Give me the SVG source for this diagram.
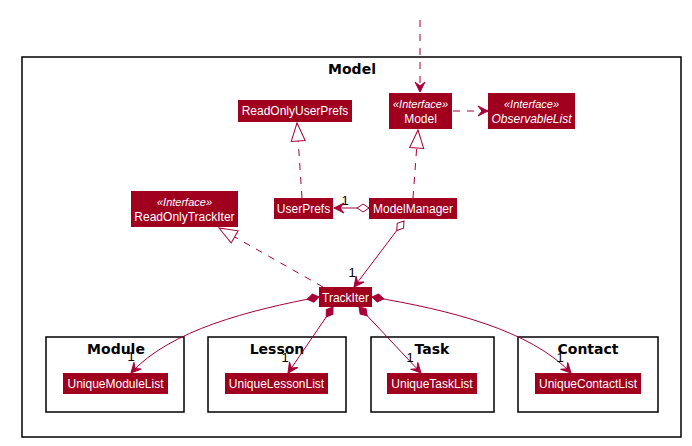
<svg xmlns="http://www.w3.org/2000/svg" width="692" height="446" viewBox="0 0 692 446">
<style>
.pkg{fill:none;stroke:#000;stroke-width:1.5}
.ptitle{font-family:"DejaVu Sans","Liberation Sans",sans-serif;font-size:14px;font-weight:bold;fill:#000;text-anchor:middle}
.box{fill:#A0001E;stroke:none}
.lbl{font-family:"Liberation Sans",Arial,sans-serif;font-size:12px;fill:#fff;text-anchor:middle}
.st{font-family:"Liberation Sans",Arial,sans-serif;font-size:11px;font-style:italic;fill:#fff;text-anchor:middle}
.e{fill:none;stroke:#A80036;stroke-width:1}
.d{stroke-dasharray:7,7}
.m{font-family:"Liberation Sans",Arial,sans-serif;font-size:13px;fill:#000;text-anchor:middle}
</style>
<defs>
<marker id="open" viewBox="0 0 12 12" refX="11" refY="6" markerWidth="12" markerHeight="12" orient="auto" markerUnits="userSpaceOnUse">
<path d="M1,1 L11,6 L1,11 L5,6 Z" fill="#A80036" stroke="#A80036"/>
</marker>
<marker id="tri" viewBox="0 0 20 16" refX="19" refY="8" markerWidth="20" markerHeight="16" orient="auto" markerUnits="userSpaceOnUse">
<path d="M1,1 L19,8 L1,15 Z" fill="#fff" stroke="#A80036"/>
</marker>
<marker id="odia" viewBox="0 0 14 10" refX="1" refY="5" markerWidth="14" markerHeight="10" orient="auto" markerUnits="userSpaceOnUse">
<path d="M1,5 L7,1 L13,5 L7,9 Z" fill="#fff" stroke="#A80036"/>
</marker>
<marker id="fdia" viewBox="0 0 14 10" refX="1" refY="5" markerWidth="14" markerHeight="10" orient="auto" markerUnits="userSpaceOnUse">
<path d="M1,5 L7,1 L13,5 L7,9 Z" fill="#A80036" stroke="#A80036"/>
</marker>
</defs>

<g id="pkg-model">
<rect class="pkg" x="22" y="57" width="659" height="380"/>
<text class="ptitle" x="352" y="74">Model</text>
</g>
<g id="pkg-module">
<rect class="pkg" x="46" y="337" width="138" height="75"/>
<text class="ptitle" x="116" y="354">Module</text>
</g>
<g id="pkg-lesson">
<rect class="pkg" x="208" y="337" width="138" height="75"/>
<text class="ptitle" x="277" y="354">Lesson</text>
</g>
<g id="pkg-task">
<rect class="pkg" x="371" y="337" width="123" height="75"/>
<text class="ptitle" x="432" y="354">Task</text>
</g>
<g id="pkg-contact">
<rect class="pkg" x="518" y="337" width="140" height="75"/>
<text class="ptitle" x="588" y="354">Contact</text>
</g>

<g id="connectors">
<line class="e d" x1="420" y1="20" x2="420" y2="92" marker-end="url(#open)"/>
<line class="e d" x1="453" y1="111" x2="488" y2="111" marker-end="url(#open)"/>
<line class="e d" x1="302" y1="198" x2="297" y2="123" marker-end="url(#tri)"/>
<line class="e d" x1="413" y1="198" x2="418" y2="130" marker-end="url(#tri)"/>
<line class="e d" x1="323" y1="287" x2="219" y2="228" marker-end="url(#tri)"/>
<line class="e" x1="369" y1="208" x2="334" y2="208" marker-start="url(#odia)" marker-end="url(#open)"/>
<text class="m" x="345" y="205">1</text>
<line class="e" x1="404" y1="221" x2="354" y2="287" marker-start="url(#odia)" marker-end="url(#open)"/>
<text class="m" x="352" y="277">1</text>
<path class="e" d="M319,297 C250,310 170,330 131,373" marker-start="url(#fdia)" marker-end="url(#open)"/>
<text class="m" x="131" y="361">1</text>
<line class="e" x1="333" y1="307" x2="288" y2="373" marker-start="url(#fdia)" marker-end="url(#open)"/>
<text class="m" x="285" y="362">1</text>
<line class="e" x1="359" y1="307" x2="421" y2="373" marker-start="url(#fdia)" marker-end="url(#open)"/>
<text class="m" x="410" y="362">1</text>
<path class="e" d="M372,297 C450,310 530,330 571,373" marker-start="url(#fdia)" marker-end="url(#open)"/>
<text class="m" x="560" y="362">1</text>
</g>

<g id="node-model">
<rect class="box" x="389" y="93" width="63" height="36"/>
<text class="st" x="420.5" y="108">«Interface»</text>
<text class="lbl" x="420.5" y="123">Model</text>
</g>
<g id="node-observablelist">
<rect class="box" x="488" y="93" width="87" height="36"/>
<text class="st" x="531.5" y="108">«Interface»</text>
<text class="st" x="531.5" y="123" style="font-size:12px">ObservableList</text>
</g>
<g id="node-readonlyuserprefs">
<rect class="box" x="238" y="100" width="114" height="22"/>
<text class="lbl" x="295" y="115">ReadOnlyUserPrefs</text>
</g>
<g id="node-readonlytrackiter">
<rect class="box" x="131" y="191" width="107" height="36"/>
<text class="st" x="184.5" y="206">«Interface»</text>
<text class="lbl" x="184.5" y="221">ReadOnlyTrackIter</text>
</g>
<g id="node-userprefs">
<rect class="box" x="274" y="198" width="59" height="21"/>
<text class="lbl" x="303.5" y="213">UserPrefs</text>
</g>
<g id="node-modelmanager">
<rect class="box" x="369" y="198" width="88" height="21"/>
<text class="lbl" x="413" y="213">ModelManager</text>
</g>
<g id="node-trackiter">
<rect class="box" x="319" y="287" width="53" height="20"/>
<text class="lbl" x="345.5" y="302">TrackIter</text>
</g>
<g id="node-uniquemodulelist">
<rect class="box" x="63" y="373" width="105" height="21"/>
<text class="lbl" x="115.5" y="388">UniqueModuleList</text>
</g>
<g id="node-uniquelessonlist">
<rect class="box" x="225" y="373" width="103" height="21"/>
<text class="lbl" x="276.5" y="388">UniqueLessonList</text>
</g>
<g id="node-uniquetasklist">
<rect class="box" x="387" y="373" width="90" height="21"/>
<text class="lbl" x="432" y="388">UniqueTaskList</text>
</g>
<g id="node-uniquecontactlist">
<rect class="box" x="535" y="373" width="106" height="21"/>
<text class="lbl" x="588" y="388">UniqueContactList</text>
</g>
</svg>
